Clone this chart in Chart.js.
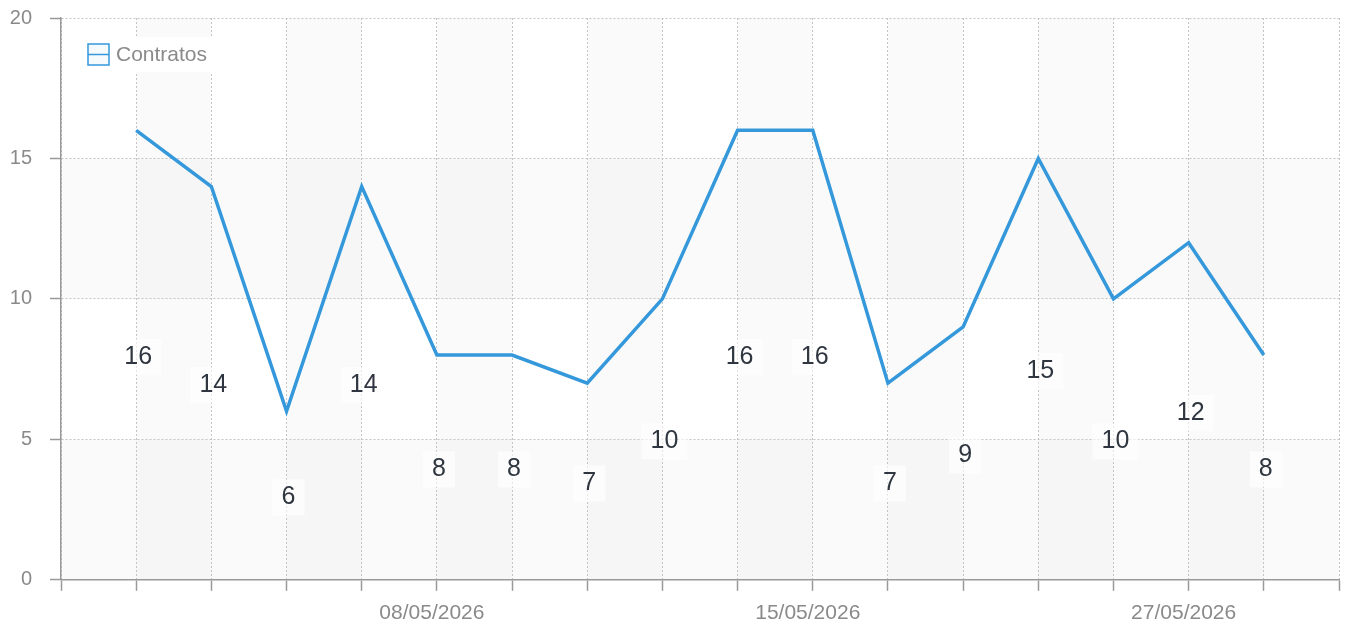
<!DOCTYPE html>
<html>
<head>
<meta charset="utf-8">
<script src="https://cdn.jsdelivr.net/npm/chart.js@4/dist/chart.umd.min.js"></script>
<style>
  html, body { margin: 0; padding: 0; background: #fff; }
  #wrap { width: 1346px; height: 625px; }
</style>
</head>
<body>
<div id="wrap"><canvas id="chart"></canvas></div>
<script>
// x slots: one empty slot at each end, 16 days in between
const dates = ['', '', '', '', '', '08/05/2026', '', '', '', '', '15/05/2026', '', '', '', '', '27/05/2026', '', ''];
const contratos = [16, 14, 6, 14, 8, 8, 7, 10, 16, 16, 7, 9, 15, 10, 12, 8];
const yTicks = [0, 5, 10, 15, 20];

const seriesData = [null, ...contratos, null];

const bandsPlugin = {
    id: 'bands',
    beforeDraw(chart) {
        const { ctx, chartArea: a, scales: { x, y } } = chart;
        ctx.save();
        ctx.fillStyle = 'rgba(0,0,0,0.02)';
        // vertical stripes
        for (let i = 1; i < dates.length - 1; i += 2) {
            const x0 = x.getPixelForValue(i), x1 = x.getPixelForValue(i + 1);
            ctx.fillRect(x0, a.top, x1 - x0, a.bottom - a.top);
        }
        // horizontal bands
        for (let i = 0; i < yTicks.length - 1; i += 2) {
            const y0 = y.getPixelForValue(yTicks[i + 1]), y1 = y.getPixelForValue(yTicks[i]);
            ctx.fillRect(a.left, y0, a.right - a.left, y1 - y0);
        }
        ctx.restore();
    }
};

const labelsPlugin = {
    id: 'valueLabels',
    afterDatasetsDraw(chart) {
        const { ctx, scales: { x, y } } = chart;
        ctx.save();
        ctx.font = '25px "Liberation Sans", Arial, sans-serif';
        ctx.textAlign = 'center';
        ctx.textBaseline = 'middle';
        seriesData.forEach((v, i) => {
            if (v == null) return;
            const px = x.getPixelForValue(i) + 2;
            const py = y.getPixelForValue(v / 2) + 2;
            const w = ctx.measureText(String(v)).width + 18;
            ctx.fillStyle = 'rgba(255,255,255,0.6)';
            ctx.fillRect(px - w / 2, py - 18, w, 36);
            ctx.fillStyle = '#2f3640';
            ctx.fillText(String(v), px, py);
        });
        ctx.restore();
    }
};

const legendPlugin = {
    id: 'innerLegend',
    afterDraw(chart) {
        const { ctx } = chart;
        const ds = chart.data.datasets[0];
        ctx.save();
        ctx.font = '21px "Liberation Sans", Arial, sans-serif';
        const tw = ctx.measureText(ds.label).width;
        ctx.fillStyle = '#fff';
        ctx.fillRect(80, 37, 36 + tw + 8, 35);
        ctx.strokeStyle = ds.borderColor;
        ctx.lineWidth = 1.5;
        ctx.fillStyle = 'rgba(52,152,219,0.05)';
        ctx.fillRect(88, 44, 21, 21);
        ctx.strokeRect(88, 44, 21, 21);
        ctx.beginPath();
        ctx.moveTo(88, 54.5);
        ctx.lineTo(109, 54.5);
        ctx.stroke();
        ctx.fillStyle = '#8a8a8a';
        ctx.textBaseline = 'middle';
        ctx.fillText(ds.label, 116, 55);
        ctx.restore();
    }
};

new Chart(document.getElementById('chart'), {
    type: 'line',
    data: {
        labels: dates,
        datasets: [{
            label: 'Contratos',
            data: seriesData,
            borderColor: '#3498db',
            borderWidth: 3.5,
            pointRadius: 0,
            tension: 0,
            fill: false
        }]
    },
    options: {
        responsive: true,
        maintainAspectRatio: false,
        animation: false,
        layout: { padding: { left: 7, right: 7, top: 18, bottom: -11 } },
        plugins: { legend: { display: false }, tooltip: { enabled: false } },
        scales: {
            x: {
                afterFit(scale) {
                    scale.paddingLeft = 0;
                    scale.paddingRight = 0;
                },
                grid: { color: '#c4c4c4', tickColor: '#999', tickLength: 11, tickWidth: 1.5, tickBorderDash: [] },
                border: { color: '#999', width: 1.5, dash: [2, 2] },
                ticks: {
                    autoSkip: false, maxRotation: 0, padding: 10, labelOffset: -5,
                    color: '#8a8a8a', font: { family: '"Liberation Sans", Arial, sans-serif', size: 21 }
                }
            },
            y: {
                min: 0, max: 20,
                afterFit(scale) {
                    scale.width = 54;
                    scale.paddingTop = 0;
                    scale.paddingBottom = 0;
                },
                grid: { color: '#c4c4c4', tickColor: '#999', tickLength: 11, tickWidth: 1.5, tickBorderDash: [] },
                border: { color: '#999', width: 1.5, dash: [2, 2] },
                ticks: {
                    stepSize: 5, padding: 18,
                    color: '#8a8a8a', font: { family: '"Liberation Sans", Arial, sans-serif', size: 20 }
                }
            }
        }
    },
    plugins: [bandsPlugin, labelsPlugin, legendPlugin]
});
</script>
</body>
</html>
